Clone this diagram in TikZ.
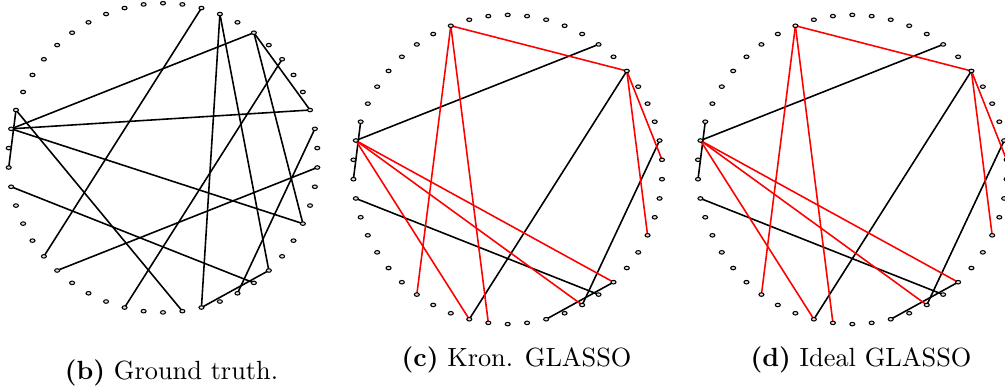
\documentclass[tikz,border=0pt]{standalone}
\usetikzlibrary{shapes.geometric}
\pgfdeclarelayer{bg}
\pgfsetlayers{bg,main}
\begin{document}
\begin{tikzpicture}[x=0.38pt,y=-0.38pt,
 dot/.style={ellipse,draw=black,fill=black!12,line width=0.4pt,minimum width=1.9pt,minimum height=1.35pt,inner sep=0pt},
 edge/.style={line width=0.6pt,black},
 redge/.style={line width=0.6pt,red},
 lbl/.style={anchor=base,font=\fontsize{10}{12}\selectfont}]
\useasboundingbox (0,0) rectangle (1005,387);
\foreach \p/\cx/\cy in {a/163/157.8,b/507.7/169.5,c/852.3/169.5}{
  \foreach \k in {0,...,49}{
    \node[dot] (\p\k) at ({\cx+154.6*cos(90+7.2*\k)},{\cy-154.6*sin(90+7.2*\k)}) {};
  }
}
\begin{pgfonlayer}{bg}
\foreach \u/\v in {48/18,47/27,47/31,45/11,45/40,45/34,43/23,40/11,39/29,37/19,11/34,10/26,10/13,14/30,31/27}
  \draw[edge] (a\u.center) -- (a\v.center);
\foreach \p in {b,c}{
  \foreach \u/\v in {10/13,11/45,43/23,39/29,14/30,31/27}
    \draw[edge] (\p\u.center) -- (\p\v.center);
  \foreach \u/\v in {3/43,3/20,3/24,43/38,43/34,11/23,11/29,11/31}
    \draw[redge] (\p\u.center) -- (\p\v.center);
}
\end{pgfonlayer}
\node[lbl] (lb) at (171.5,380) {\textbf{(b)} Ground truth.};
\node[lbl] (lc) at (516.5,367) {\textbf{(c)} Kron. GLASSO};
\node[lbl] (ld) at (861,367) {\textbf{(d)} Ideal GLASSO};
\end{tikzpicture}
\end{document}
